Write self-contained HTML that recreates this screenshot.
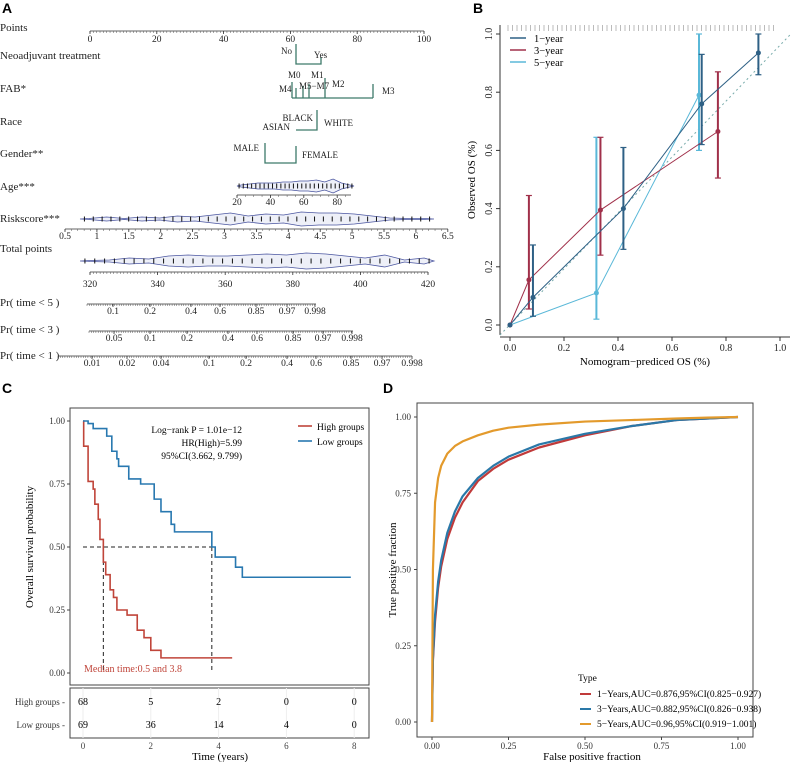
<!DOCTYPE html>
<html><head><meta charset="utf-8"><style>
body{margin:0;background:#fff}
svg{display:block;font-family:"Liberation Serif",serif}
.h{font-family:"Liberation Sans",sans-serif;font-weight:bold;font-size:14px}
</style></head><body>
<svg id="s" width="791" height="762" viewBox="0 0 791 762">
<text class="h" x="2" y="13">A</text>
<text class="h" x="473" y="13">B</text>
<text class="h" x="2" y="393">C</text>
<text class="h" x="383" y="393">D</text>
<g id="A" font-size="10" fill="#222"></g>
<g id="B"></g>
<g id="C"></g>
<g id="D"></g>
</svg>
<script>
const NS="http://www.w3.org/2000/svg";
function mk(p,t,a,txt){const e=document.createElementNS(NS,t);for(const k in a)e.setAttribute(k,a[k]);if(txt!==undefined)e.textContent=txt;p.appendChild(e);return e;}
const A=document.getElementById('A'),B=document.getElementById('B'),C=document.getElementById('C'),D=document.getElementById('D');

// ---------- Panel A nomogram ----------
const rowLabels=["Points","Neoadjuvant treatment","FAB*","Race","Gender**","Age***","Riskscore***","Total points","Pr( time < 5 )","Pr( time < 3 )","Pr( time < 1 )"];
const rowY=[31,59,92,125,157,190,222,252,306,333,359];
rowLabels.forEach((l,i)=>{const t=mk(A,'text',{x:0,y:rowY[i],'font-size':11},l);

});
function axis(x0,x1,y,ticks,labs,ly,minor){mk(A,'line',{x1:x0,x2:x1,y1:y,y2:y,stroke:'#333','stroke-width':0.8});
 if(minor){for(let x=x0;x<=x1;x+=minor)mk(A,'line',{x1:x,x2:x,y1:y,y2:y+2,stroke:'#555','stroke-width':0.5});}
 ticks.forEach((x,i)=>{mk(A,'line',{x1:x,x2:x,y1:y,y2:y+3,stroke:'#333','stroke-width':0.8});
 const t=mk(A,'text',{x:x,y:ly,'text-anchor':'middle','font-size':9.5},labs[i]);
 
 });}
const pointsTicks=[0,20,40,60,80,100];
const px=p=>90+3.34*p;
axis(px(0),px(100),31,pointsTicks.map(px),pointsTicks,42,3.34);
const G='#3d7a6a';
function pl(pts,c,w){mk(A,'polyline',{points:pts,fill:'none',stroke:c||G,'stroke-width':w||1.3});}
pl('296,44 296,64 321,64 321,57');
mk(A,'text',{x:292,y:54,'text-anchor':'end','font-size':9},'No');mk(A,'text',{x:314,y:58,'font-size':9},'Yes');
pl('292,98 373,98');[[292,82],[296,88],[303,86],[309,84],[325,78],[373,84]].forEach(d=>pl(`${d[0]},98 ${d[0]},${d[1]}`));
[['M0',288,78],['M1',311,78],['M4',279,92],['M5−M7',299,89],['M2',332,87],['M3',382,94]].forEach(d=>mk(A,'text',{x:d[1],y:d[2],'font-size':9},d[0]));
pl('317,110 317,130 296,130');
mk(A,'text',{x:313,y:121,'text-anchor':'end','font-size':9},'BLACK');mk(A,'text',{x:290,y:130,'text-anchor':'end','font-size':9},'ASIAN');mk(A,'text',{x:324,y:126,'font-size':9},'WHITE');
pl('265,143 265,163 296,163 296,146');
mk(A,'text',{x:259,y:151,'text-anchor':'end','font-size':9},'MALE');mk(A,'text',{x:302,y:158,'font-size':9},'FEMALE');
function violin(x0,x1,y,bulges){let top=`M${x0},${y}`,bot='';const n=bulges.length;
 const pts=bulges.map((h,i)=>[x0+(x1-x0)*(i+0.5)/n,h]);
 pts.forEach(p=>top+=` L${p[0]},${y-p[1]}`);top+=` L${x1},${y}`;
 for(let i=n-1;i>=0;i--)bot+=` L${pts[i][0]},${y+pts[i][1]}`;
 mk(A,'path',{d:top+bot+' Z',fill:'#eef0f8',stroke:'#4a55a0','stroke-width':0.8});
 for(let i=0;i<n*2;i++){const x=x0+(x1-x0)*(i+0.5)/(n*2);mk(A,'line',{x1:x,x2:x,y1:y-2.5,y2:y+2.5,stroke:'#111','stroke-width':1});}}
const ageBulge=[1,2,3,3,3,4,4,5,5,6,4,7,3,1];
const riskBulge=[0.5,2,0.5,2,1,3,2,4,6,3,5,4,7,6,6,5,3,1,0.5,0.5];
const totalBulge=[0.5,1,3,2,5,6,5,5,6,7,6,8,7,5,3,6,1,3];
violin(237,354,186,ageBulge);
const ageT=[20,40,60,80];axis(237,351,195,ageT.map(a=>237+(a-20)*1.67),ageT,205,8.35);
violin(80,434,219,riskBulge);
const riskT=[0.5,1,1.5,2,2.5,3,3.5,4,4.5,5,5.5,6,6.5];axis(65,448,229,riskT.map(r=>65+(r-0.5)*63.8),riskT,239,6.38);
violin(80,434,261,totalBulge);
const totT=[320,340,360,380,400,420];axis(90,428,272,totT.map(t=>90+(t-320)*3.38),totT,287,3.38);
axis(87,316,304,[113,150,191,220,256,287,315],['0.1','0.2','0.4','0.6','0.85','0.97','0.998'],314,2.3);
axis(89,353,331,[114,150,187,228,257,293,323,352],['0.05','0.1','0.2','0.4','0.6','0.85','0.97','0.998'],341,2.3);
axis(58,412,356,[92,127,161,209,246,287,316,351,382,412],['0.01','0.02','0.04','0.1','0.2','0.4','0.6','0.85','0.97','0.998'],366,2.3);

// ---------- Panel B calibration ----------
const bx=v=>510+270*v, by=v=>325-291*v;
const cal1x=[0,0.085,0.42,0.71,0.92], cal1y=[0,0.095,0.40,0.76,0.935];
const cal1lo=[0,0.03,0.26,0.62,0.86], cal1hi=[0,0.275,0.61,0.93,1.0];
const cal3x=[0,0.07,0.335,0.77], cal3y=[0,0.155,0.395,0.665];
const cal3lo=[0,0.055,0.24,0.505], cal3hi=[0,0.445,0.645,0.87];
const cal5x=[0,0.32,0.70], cal5y=[0,0.11,0.79];
const cal5lo=[0,0.02,0.60], cal5hi=[0,0.645,1.0];
const bTicks=[0,0.2,0.4,0.6,0.8,1.0];
mk(B,'line',{x1:500,x2:500,y1:25,y2:335,stroke:'#333'});mk(B,'line',{x1:500,x2:790,y1:337,y2:337,stroke:'#333'});
bTicks.forEach(t=>{mk(B,'line',{x1:bx(t),x2:bx(t),y1:337,y2:341,stroke:'#333'});
 const a=mk(B,'text',{x:bx(t),y:351,'text-anchor':'middle','font-size':10,fill:'#222'},t.toFixed(1));
 
 mk(B,'line',{x1:496,x2:500,y1:by(t),y2:by(t),stroke:'#333'});
 const b=mk(B,'text',{x:0,y:0,transform:`translate(492,${by(t)}) rotate(-90)`,'text-anchor':'middle','font-size':10,fill:'#222'},t.toFixed(1));
 });
mk(B,'text',{x:645,y:365,'text-anchor':'middle','font-size':11},'Nomogram−prediced OS (%)');
mk(B,'text',{x:0,y:0,transform:'translate(475,180) rotate(-90)','text-anchor':'middle','font-size':11},'Observed OS (%)');
mk(B,'line',{x1:500,y1:335,x2:790,y2:by(1.1)+30,stroke:'#7aa','stroke-dasharray':'2,3'});
for(let i=0;i<60;i++){const x=508+i*4.5;mk(B,'line',{x1:x,x2:x,y1:25,y2:31,stroke:'#aaa','stroke-width':0.8});}
function calSeries(xs,ys,lo,hi,col,nm){
 mk(B,'polyline',{points:xs.map((x,i)=>bx(x)+','+by(ys[i])).join(' '),fill:'none',stroke:col,'stroke-width':1});
 xs.forEach((x,i)=>{if(hi[i]>lo[i]){mk(B,'line',{x1:bx(x),x2:bx(x),y1:by(lo[i]),y2:by(hi[i]),stroke:col,'stroke-width':2});
 [lo[i],hi[i]].forEach(v=>mk(B,'line',{x1:bx(x)-3,x2:bx(x)+3,y1:by(v),y2:by(v),stroke:col,'stroke-width':1.2}));}
 const c=mk(B,'circle',{cx:bx(x),cy:by(ys[i]),r:2.5,fill:col});
 });}
calSeries(cal5x,cal5y,cal5lo,cal5hi,'#5ab8d8','5-year');
calSeries(cal3x,cal3y,cal3lo,cal3hi,'#a0304a','3-year');
calSeries(cal1x,cal1y,cal1lo,cal1hi,'#2e6085','1-year');
[['1−year','#2e6085'],['3−year','#a0304a'],['5−year','#5ab8d8']].forEach((d,i)=>{const y=38+i*12;
 mk(B,'line',{x1:510,x2:526,y1:y,y2:y,stroke:d[1],'stroke-width':1.5});
 const t=mk(B,'text',{x:534,y:y+4,'font-size':10.5},d[0]);});

// ---------- Panel C KM ----------
const cx=t=>83+33.9*t, cy=p=>673-252*p;
const highT=[0,0.02,0.15,0.3,0.35,0.45,0.5,0.6,0.67,0.8,0.9,1.0,1.3,1.6,1.8,2.0,2.3,4.4];
const highS=[1,0.90,0.76,0.73,0.67,0.61,0.53,0.44,0.39,0.33,0.30,0.25,0.23,0.17,0.14,0.09,0.06,0.06];
const lowT=[0,0.15,0.3,0.7,0.85,1.0,1.05,1.35,1.7,2.1,2.3,2.6,2.7,3.8,3.9,4.5,4.7,7.9];
const lowS=[1,0.99,0.97,0.94,0.88,0.85,0.82,0.77,0.75,0.69,0.64,0.59,0.56,0.50,0.46,0.42,0.38,0.38];
const cTicks=[0.00,0.25,0.50,0.75,1.00], cxTicks=[0,2,4,6,8];
mk(C,'rect',{x:70,y:408,width:299,height:277,fill:'none',stroke:'#444'});
cTicks.forEach(t=>{mk(C,'line',{x1:67,x2:70,y1:cy(t),y2:cy(t),stroke:'#444'});
 const a=mk(C,'text',{x:65,y:cy(t)+3,'text-anchor':'end','font-size':9,fill:'#333'},t.toFixed(2));});
mk(C,'text',{x:0,y:0,transform:'translate(33,547) rotate(-90)','text-anchor':'middle','font-size':11},'Overall survival probability');
function step(T,S){let p=`M${cx(T[0])},${cy(S[0])}`;for(let i=1;i<T.length;i++)p+=` H${cx(T[i])} V${cy(S[i])}`;return p;}
mk(C,'path',{d:`M${cx(0)},${cy(0.5)} H${cx(3.8)} M${cx(0.6)},${cy(0.5)} V${cy(0)} M${cx(3.8)},${cy(0.5)} V${cy(0)}`,stroke:'#222','stroke-dasharray':'4,3',fill:'none'});
const hp=mk(C,'path',{d:step(highT,highS),fill:'none',stroke:'#c0453a','stroke-width':1.6});

const lp=mk(C,'path',{d:step(lowT,lowS),fill:'none',stroke:'#2878b0','stroke-width':1.6});

[['Log−rank P = 1.01e−12',433],['HR(High)=5.99',446],['95%CI(3.662, 9.799)',459]].forEach(d=>mk(C,'text',{x:242,y:d[1],'text-anchor':'end','font-size':9.5},d[0]));
[['High groups','#c0453a',426],['Low groups','#2878b0',441]].forEach(d=>{mk(C,'line',{x1:298,x2:312,y1:d[2],y2:d[2],stroke:d[1],'stroke-width':1.6});
 const t=mk(C,'text',{x:317,y:d[2]+4,'font-size':9.5},d[0]);});
mk(C,'text',{x:84,y:672,'font-size':10,fill:'#c0453a'},'Median time:0.5 and 3.8');
mk(C,'rect',{x:70,y:688,width:299,height:50,fill:'none',stroke:'#444'});
const highRisk=[68,5,2,0,0], lowRisk=[69,36,14,4,0];
cxTicks.forEach((t,i)=>{mk(C,'line',{x1:cx(t),x2:cx(t),y1:688,y2:738,stroke:'#eee'});
 mk(C,'text',{x:cx(t),y:705,'text-anchor':'middle','font-size':10},highRisk[i]);
 mk(C,'text',{x:cx(t),y:728,'text-anchor':'middle','font-size':10},lowRisk[i]);
 mk(C,'text',{x:cx(t),y:749,'text-anchor':'middle','font-size':9,fill:'#444'},t);});
mk(C,'text',{x:65,y:705,'text-anchor':'end','font-size':9,fill:'#333'},'High groups -');
mk(C,'text',{x:65,y:728,'text-anchor':'end','font-size':9,fill:'#333'},'Low groups -');
mk(C,'text',{x:220,y:760,'text-anchor':'middle','font-size':11},'Time (years)');

// ---------- Panel D ROC ----------
const dx=v=>432+306*v, dy=v=>722-305*v;
const fpr=[0,0.003,0.01,0.02,0.03,0.05,0.075,0.1,0.15,0.2,0.25,0.35,0.5,0.65,0.8,0.9,1];
const tpr1=[0,0.2,0.33,0.44,0.51,0.6,0.67,0.72,0.79,0.83,0.86,0.9,0.94,0.97,0.99,0.995,1];
const tpr3=[0,0.21,0.35,0.46,0.53,0.62,0.69,0.74,0.8,0.84,0.87,0.91,0.945,0.97,0.99,0.995,1];
const tpr5=[0,0.5,0.72,0.8,0.84,0.88,0.905,0.92,0.94,0.955,0.965,0.975,0.985,0.99,0.995,0.998,1];
mk(D,'rect',{x:417,y:403,width:336,height:334,fill:'none',stroke:'#444'});
const dTicks=[0,0.25,0.5,0.75,1];
dTicks.forEach(t=>{mk(D,'line',{x1:414,x2:417,y1:dy(t),y2:dy(t),stroke:'#444'});
 mk(D,'text',{x:411,y:dy(t)+3,'text-anchor':'end','font-size':9,fill:'#333'},t.toFixed(2));
 mk(D,'line',{x1:dx(t),x2:dx(t),y1:737,y2:740,stroke:'#444'});
 mk(D,'text',{x:dx(t),y:749,'text-anchor':'middle','font-size':9,fill:'#333'},t.toFixed(2));});
mk(D,'text',{x:592,y:760,'text-anchor':'middle','font-size':11},'False positive fraction');
mk(D,'text',{x:0,y:0,transform:'translate(396,570) rotate(-90)','text-anchor':'middle','font-size':11},'True positive fraction');
[[tpr1,'#c03a3a','roc-1-year'],[tpr3,'#2a78a8','roc-3-year'],[tpr5,'#e39a2c','roc-5-year']].forEach(s=>{
 const p=mk(D,'polyline',{points:fpr.map((f,i)=>dx(f)+','+dy(s[0][i])).join(' '),fill:'none',stroke:s[1],'stroke-width':2.2,'stroke-linejoin':'round'});
 });
mk(D,'text',{x:578,y:681,'font-size':9.5},'Type');
[['1−Years,AUC=0.876,95%CI(0.825−0.927)','#c03a3a'],['3−Years,AUC=0.882,95%CI(0.826−0.938)','#2a78a8'],['5−Years,AUC=0.96,95%CI(0.919−1.001)','#e39a2c']].forEach((d,i)=>{const y=694+i*15;
 mk(D,'line',{x1:580,x2:591,y1:y,y2:y,stroke:d[1],'stroke-width':2});
 const t=mk(D,'text',{x:597,y:y+3,'font-size':9.5},d[0]);});
</script>
</body></html>
